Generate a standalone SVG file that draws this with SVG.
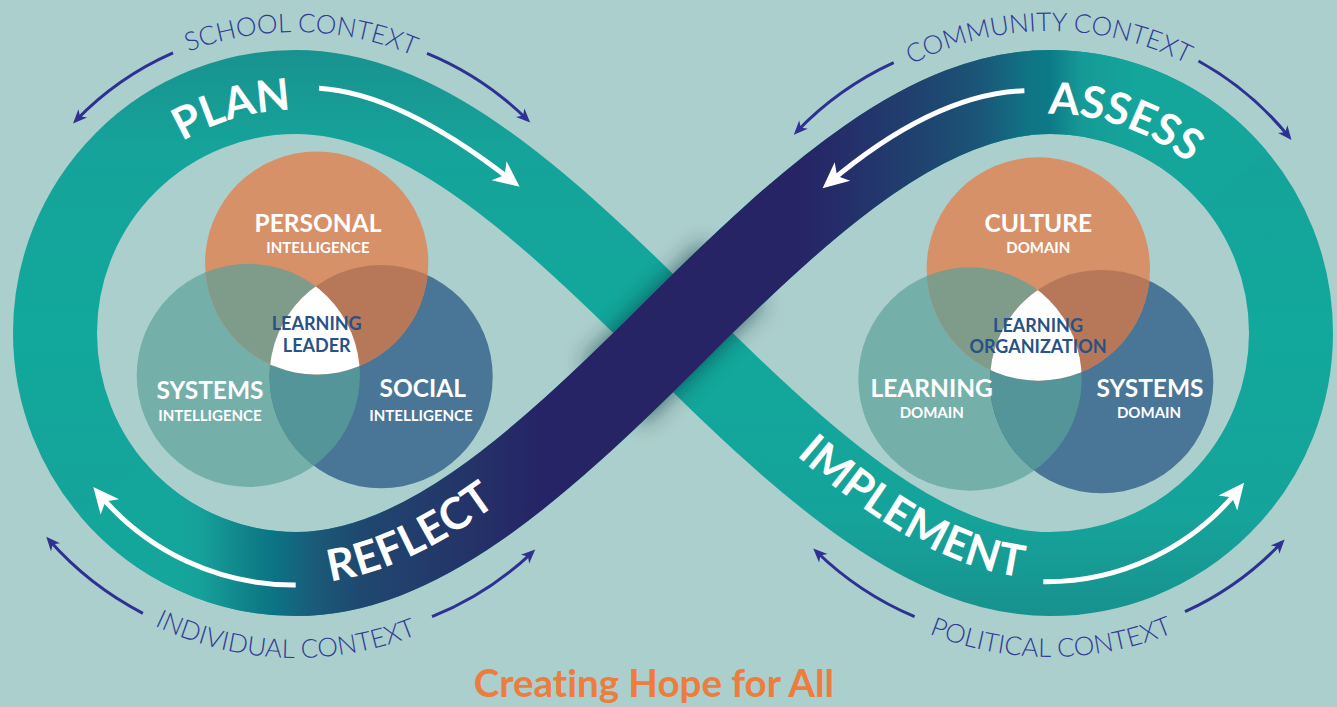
<svg xmlns="http://www.w3.org/2000/svg" width="1337" height="707" viewBox="0 0 1337 707">
<defs>
<style>
.band{fill:none;stroke-width:84;stroke-linejoin:round}
.lbl{font-family:Lato,"Noto Sans","Liberation Sans",sans-serif;font-weight:700;fill:#fff}
.big{font-size:44px}
.mid{text-anchor:middle}
.ctx{font-family:Lato,"Liberation Sans",sans-serif;font-weight:300;font-size:26px;fill:#2f3b95;text-anchor:middle}
.vh{font-size:24.5px;text-anchor:middle}
.vs{font-size:15px;text-anchor:middle}
.ctr{font-size:18px;fill:#265286;text-anchor:middle}
.warr{fill:none;stroke:#fff;stroke-width:5;marker-end:url(#wh)}
.barr{fill:none;stroke:#2e3192;stroke-width:3;marker-end:url(#bh)}
text{font-variant-ligatures:none}
</style>
<linearGradient id="gTeal" gradientUnits="userSpaceOnUse" x1="0" y1="50" x2="0" y2="617">
<stop offset="0" stop-color="#19928f"/>
<stop offset="0.17" stop-color="#15a39a"/>
<stop offset="0.5" stop-color="#12a89c"/>
<stop offset="0.83" stop-color="#15a39a"/>
<stop offset="1" stop-color="#18918e"/>
</linearGradient>
<linearGradient id="gNavy" gradientUnits="userSpaceOnUse" x1="80" y1="0" x2="1280" y2="0">
<stop offset="0" stop-color="#14a59b"/>
<stop offset="0.083" stop-color="#14a59b"/>
<stop offset="0.1" stop-color="#16a19a"/>
<stop offset="0.142" stop-color="#0f8088"/>
<stop offset="0.16" stop-color="#0b7585"/>
<stop offset="0.196" stop-color="#1a5a78"/>
<stop offset="0.233" stop-color="#1f4870"/>
<stop offset="0.321" stop-color="#243468"/>
<stop offset="0.383" stop-color="#262466"/>
<stop offset="0.6" stop-color="#262465"/>
<stop offset="0.642" stop-color="#24306a"/>
<stop offset="0.702" stop-color="#1f436f"/>
<stop offset="0.749" stop-color="#1b5577"/>
<stop offset="0.792" stop-color="#0f7585"/>
<stop offset="0.808" stop-color="#0c7a86"/>
<stop offset="0.835" stop-color="#169a97"/>
<stop offset="0.879" stop-color="#14a59b"/>
<stop offset="1" stop-color="#14a59b"/>
</linearGradient>
<filter id="sh" x="-50%" y="-50%" width="200%" height="200%"><feGaussianBlur stdDeviation="11"/></filter>
<marker id="wh" markerUnits="userSpaceOnUse" markerWidth="30" markerHeight="26" viewBox="0 0 30 26" refX="20" refY="13" orient="auto"><path d="M28 13 L2 1 L9 13 L2 25 Z" fill="#fff"/></marker>
<marker id="bh" markerUnits="userSpaceOnUse" markerWidth="16" markerHeight="14" viewBox="0 0 16 14" refX="11" refY="7" orient="auto"><path d="M15 7 L1 1 L5 7 L1 13 Z" fill="#2e3192"/></marker>
<clipPath id="lSys"><circle cx="248.3" cy="375.4" r="111.6"/></clipPath>
<clipPath id="lSoc"><circle cx="381.1" cy="376.7" r="111.6"/></clipPath>
<clipPath id="rLrn"><circle cx="970" cy="379" r="111.7"/></clipPath>
<clipPath id="rSys"><circle cx="1101.6" cy="381.6" r="111.7"/></clipPath>
<path id="tpPlan" d="M 79.6 279.1 A 223 223 0 0 1 450.9 172.6"/>
<path id="tpAssess" d="M 907.5 166.7 A 219 219 0 0 1 1265.3 292.7"/>
<path id="tpReflect" d="M 296 574 C 416 574 531.6 474.4 673 333"/>
<path id="tpImpl" d="M 673 333 C 814.4 474.4 930 574 1050 574"/>
<path id="tpSchool" d="M 38 178 A 301 301 0 0 1 559.3 187.1"/>
<path id="tpComm" d="M 787.9 182.9 A 302 302 0 0 1 1311 181.1"/>
<path id="tpInd" d="M 9.1 485.6 A 325 325 0 0 0 571.6 505.2"/>
<path id="tpPol" d="M 770 496 A 324 324 0 0 0 1331.2 494"/>
</defs>
<rect width="1337" height="707" fill="#abcfcc"/>
<g id="infinity-loop">
<path class="band" stroke="url(#gTeal)" d="M 673 333 C 531.6 191.6 416 92 296 92 A 241 241 0 0 0 55 333 A 241 241 0 0 0 296 574 C 416 574 531.6 474.4 673 333 C 814.4 191.6 930 92 1050 92 A 241 241 0 0 1 1291 333 A 241 241 0 0 1 1050 574 C 930 574 814.4 474.4 673 333 Z"/>
<path d="M 613 393 L 733 273" stroke="#03262e" stroke-width="86" opacity="0.6" filter="url(#sh)"/>
<path class="band" stroke="url(#gNavy)" d="M 111.4 487.9 A 241 241 0 0 0 296 574 C 416 574 531.6 474.4 673 333 C 814.4 191.6 930 92 1050 92 A 241 241 0 0 1 1234.6 178.1"/>
</g>
<g id="venn-leader">
<g id="systems-intelligence"><circle cx="248.3" cy="375.4" r="111.6" fill="#74b0a9"/></g>
<g id="social-intelligence"><circle cx="381.1" cy="376.7" r="111.6" fill="#497597"/></g>
<g id="personal-intelligence"><circle cx="316.7" cy="263" r="111.6" fill="#d79169"/></g>
<circle cx="248.3" cy="375.4" r="111.6" fill="#539598" clip-path="url(#lSoc)"/>
<circle cx="316.7" cy="263" r="111.6" fill="#7f9b89" clip-path="url(#lSys)"/>
<circle cx="316.7" cy="263" r="111.6" fill="#b77859" clip-path="url(#lSoc)"/>
<g clip-path="url(#lSoc)"><circle cx="316.7" cy="263" r="111.6" fill="#fff" clip-path="url(#lSys)"/></g>
<g id="learning-leader" class="lbl">
<text class="vh" x="318" y="231.7">PERSONAL</text>
<text class="vs" x="318" y="252.7">INTELLIGENCE</text>
<text class="ctr" x="316.7" y="330">LEARNING</text>
<text class="ctr" x="316.7" y="352.3">LEADER</text>
<text class="vh" x="210" y="399.3">SYSTEMS</text>
<text class="vs" x="210" y="420.7">INTELLIGENCE</text>
<text class="vh" x="422.7" y="397.3">SOCIAL</text>
<text class="vs" x="421" y="420.7">INTELLIGENCE</text>
</g>
</g>
<g id="venn-organization">
<g id="learning-domain"><circle cx="970" cy="379" r="111.7" fill="#74b0a9"/></g>
<g id="systems-domain"><circle cx="1101.6" cy="381.6" r="111.7" fill="#497597"/></g>
<g id="culture-domain"><circle cx="1038.3" cy="269" r="111.7" fill="#d79169"/></g>
<circle cx="970" cy="379" r="111.7" fill="#539598" clip-path="url(#rSys)"/>
<circle cx="1038.3" cy="269" r="111.7" fill="#7f9b89" clip-path="url(#rLrn)"/>
<circle cx="1038.3" cy="269" r="111.7" fill="#b77859" clip-path="url(#rSys)"/>
<g clip-path="url(#rSys)"><circle cx="1038.3" cy="269" r="111.7" fill="#fff" clip-path="url(#rLrn)"/></g>
<g id="learning-organization" class="lbl">
<text class="vh" x="1038.3" y="231.7">CULTURE</text>
<text class="vs" x="1038.3" y="252.7">DOMAIN</text>
<text class="ctr" x="1038" y="331.7">LEARNING</text>
<text class="ctr" x="1038" y="353.3">ORGANIZATION</text>
<text class="vh" x="931.7" y="397.3">LEARNING</text>
<text class="vs" x="931.7" y="418.3">DOMAIN</text>
<text class="vh" x="1150" y="396.7">SYSTEMS</text>
<text class="vs" x="1149" y="418.3">DOMAIN</text>
</g>
</g>
<g id="connectors">
<path class="warr" d="M 319 88.3 Q 400 93 513.3 181.8"/>
<path class="warr" d="M 1024.4 90.7 Q 934 94 828.7 183.1"/>
<path class="warr" d="M 295.7 585 A 253 253 0 0 1 98.4 493.1"/>
<path class="warr" d="M 1043.3 581.7 A 247 247 0 0 0 1239.1 489"/>
<path class="barr" d="M 173 52.8 A 306 306 0 0 0 75.8 120.5"/>
<path class="barr" d="M 427 53.3 A 311 311 0 0 1 527.3 119.7"/>
<path class="barr" d="M 142.9 613.3 A 321 321 0 0 1 48.9 539.8"/>
<path class="barr" d="M 432 616.7 A 318 318 0 0 0 532.3 552.3"/>
<path class="barr" d="M 893.7 62.7 A 318 318 0 0 0 796.6 131.8"/>
<path class="barr" d="M 1198.5 61 A 309.5 309.5 0 0 1 1289 136.9"/>
<path class="barr" d="M 914.6 616.7 A 317 317 0 0 1 816.1 551.3"/>
<path class="barr" d="M 1185 611.7 A 311 311 0 0 0 1281.9 542.3"/>
</g>
<g id="stage-labels" class="lbl big">
<text class="mid"><textPath href="#tpPlan" startOffset="50%">PLAN</textPath></text>
<text class="mid"><textPath href="#tpAssess" startOffset="50%">ASSESS</textPath></text>
<text class="mid"><textPath href="#tpReflect" startOffset="123"><tspan dy="10">REFLECT</tspan></textPath></text>
<text class="mid"><textPath href="#tpImpl" startOffset="302"><tspan dy="4.8">IMPLEMENT</tspan></textPath></text>
</g>
<g id="context-labels">
<text class="ctx"><textPath href="#tpSchool" startOffset="50%">SCHOOL CONTEXT</textPath></text>
<text class="ctx"><textPath href="#tpComm" startOffset="50%">COMMUNITY CONTEXT</textPath></text>
<text class="ctx"><textPath href="#tpInd" startOffset="50%">INDIVIDUAL CONTEXT</textPath></text>
<text class="ctx"><textPath href="#tpPol" startOffset="50%">POLITICAL CONTEXT</textPath></text>
</g>
<g id="title">
<text x="654" y="697" font-family="Lato,'Liberation Sans',sans-serif" font-weight="700" font-size="38.5" fill="#ec7d3f" text-anchor="middle">Creating Hope for All</text>
</g>
</svg>
